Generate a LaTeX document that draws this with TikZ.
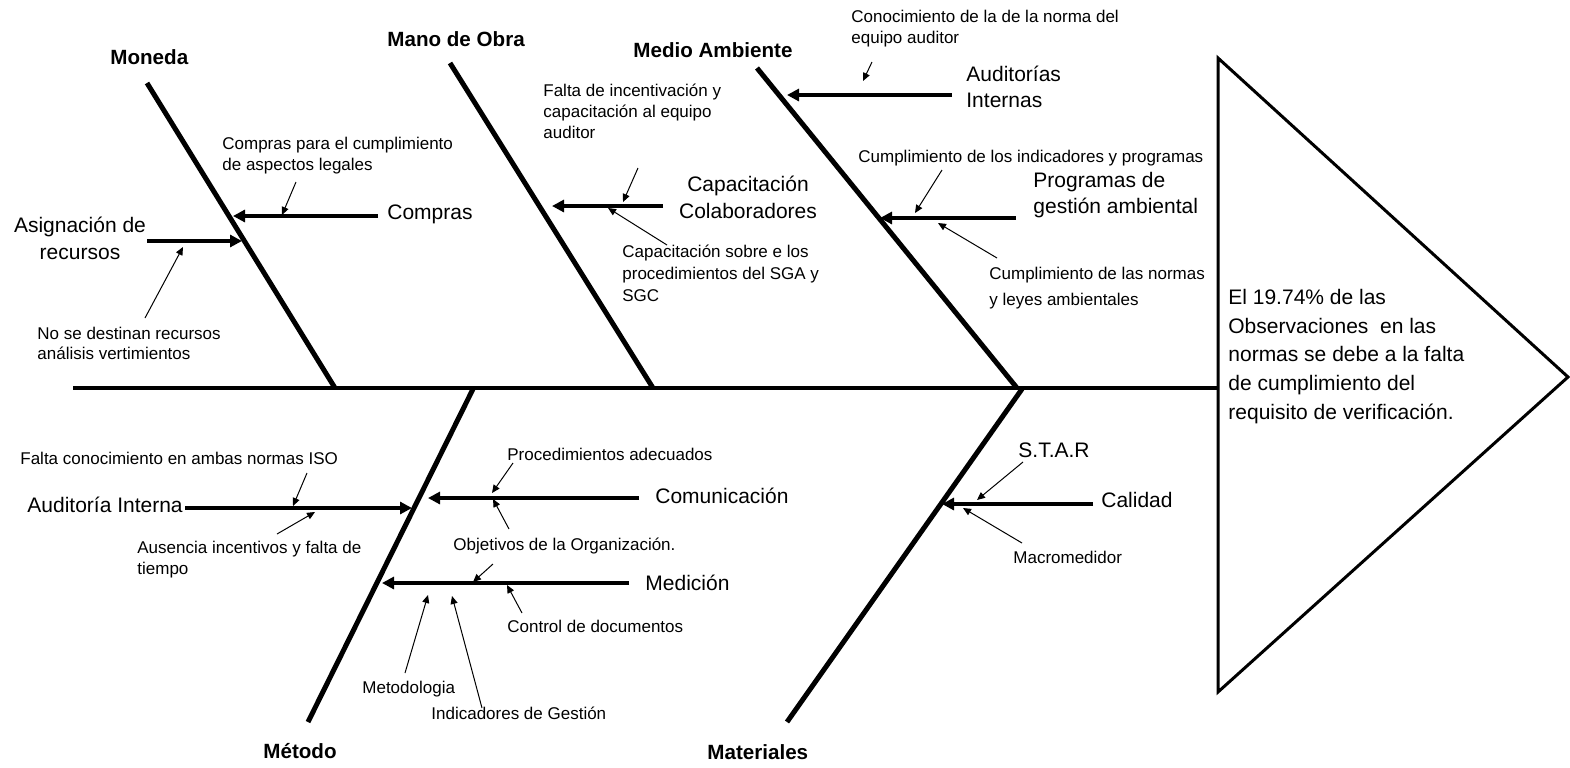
\documentclass[tikz,border=0pt]{standalone}
\usepackage{fontspec}
\setmainfont{Liberation Sans}
\usetikzlibrary{arrows.meta}
\newcommand\fsmall{\fontsize{8.5}{10.5}\selectfont}
\newcommand\fmain{\fontsize{10.5}{13.5}\selectfont}
\newcommand\fcat{\fontsize{10.3}{12}\selectfont\bfseries}
\begin{document}
\begin{tikzpicture}[x=0.5pt,y=-0.5pt,
  bone/.style={line width=2.5pt},
  spine/.style={line width=2pt},
  cause/.style={line width=2pt,-{Triangle[length=6pt,width=6pt]}},
  sub/.style={line width=0.5pt,-{Triangle[length=4pt,width=3.5pt]}},
  lbl/.style={inner sep=0pt,anchor=base west,align=left},
  small/.style={lbl,font=\fsmall},
  main/.style={lbl,font=\fmain},
  cat/.style={lbl,font=\fcat}]
\useasboundingbox (0,0) rectangle (1570,767);
% multi-line labels are placed by the baseline of their last line

% head of the fish
\coordinate (hT) at (1218,58);
\coordinate (hB) at (1218,692);
\coordinate (hA) at (1568,377);
\draw[line width=1.5pt,line join=miter] (hT) -- (hA) -- (hB) -- cycle;
\node[lbl,font=\fontsize{10.5}{14.3}\selectfont] (effect) at (1228,419)
  {El 19.74\% de las\\Observaciones\ \ en las\\normas se debe a la falta\\de cumplimiento del\\requisito de verificación.};

% spine and bones
\coordinate (s0) at (73,388);
\coordinate (s1) at (1218,388);
\draw[spine] (s0) -- (s1);
\coordinate (b1t) at (147,83);  \coordinate (b1b) at (335,388);
\coordinate (b2t) at (450,63);  \coordinate (b2b) at (653,388);
\coordinate (b3t) at (757,68);  \coordinate (b3b) at (1017,388);
\coordinate (b4t) at (473,389); \coordinate (b4b) at (308,722);
\coordinate (b5t) at (1022,389);\coordinate (b5b) at (787,722);
\draw[bone] (b1t) -- (b1b);
\draw[bone] (b2t) -- (b2b);
\draw[bone] (b3t) -- (b3b);
\draw[bone] (b4t) -- (b4b);
\draw[bone] (b5t) -- (b5b);

% category names
\node[cat] (moneda) at (110,64) {Moneda};
\node[cat] (mano) at (387,46) {Mano de Obra};
\node[cat] (medio) at (633,57) {Medio Ambiente};
\node[cat] (metodo) at (263,758) {Método};
\node[cat] (materiales) at (707,759) {Materiales};

% ---- Moneda
\node[main] (compras) at (387,219) {Compras};
\coordinate (a1s) at (378,216); \coordinate (a1e) at (233,216);
\draw[cause] (a1s) -- (a1e);
\node[main,anchor=base,align=center] (asig) at (80,259) {Asignación de\\recursos};
\coordinate (a2s) at (147,241); \coordinate (a2e) at (242,241);
\draw[cause] (a2s) -- (a2e);
\node[small] (n1) at (222,170) {Compras para el cumplimiento\\de aspectos legales};
\coordinate (n1s) at (296,182); \coordinate (n1e) at (282,215);
\draw[sub] (n1s) -- (n1e);
\node[small,font=\fontsize{8.5}{10}\selectfont] (n2) at (37,359) {No se destinan recursos\\análisis vertimientos};
\coordinate (n2s) at (145,318); \coordinate (n2e) at (183,247);
\draw[sub] (n2s) -- (n2e);

% ---- Mano de Obra
\node[main,anchor=base,align=center] (capac) at (748,218) {Capacitación\\Colaboradores};
\coordinate (a3s) at (663,206); \coordinate (a3e) at (552,206);
\draw[cause] (a3s) -- (a3e);
\node[small] (n3) at (543,138) {Falta de incentivación y\\capacitación al equipo\\auditor};
\coordinate (n3s) at (638,168); \coordinate (n3e) at (623,202);
\draw[sub] (n3s) -- (n3e);
\node[small,font=\fontsize{8.5}{10.8}\selectfont] (n4) at (622,301) {Capacitación sobre e los\\procedimientos del SGA y\\SGC};
\coordinate (n4s) at (667,245); \coordinate (n4e) at (608,208);
\draw[sub] (n4s) -- (n4e);

% ---- Medio Ambiente
\node[main,font=\fontsize{10.5}{13}\selectfont] (audit) at (966,107) {Auditorías\\Internas};
\coordinate (a4s) at (952,95); \coordinate (a4e) at (787,95);
\draw[cause] (a4s) -- (a4e);
\node[main,font=\fontsize{10.5}{13}\selectfont] (prog) at (1033,213) {Programas de\\gestión ambiental};
\coordinate (a5s) at (1016,218); \coordinate (a5e) at (880,218);
\draw[cause] (a5s) -- (a5e);
\node[small] (n5) at (851,43) {Conocimiento de la de la norma del\\equipo auditor};
\coordinate (n5s) at (872,62); \coordinate (n5e) at (863,81);
\draw[sub] (n5s) -- (n5e);
\node[small] (n6) at (858,162) {Cumplimiento de los indicadores y programas};
\coordinate (n6s) at (942,170); \coordinate (n6e) at (915,213);
\draw[sub] (n6s) -- (n6e);
\node[small,font=\fontsize{8.5}{13}\selectfont] (n7) at (989,305) {Cumplimiento de las normas\\y leyes ambientales};
\coordinate (n7s) at (997,258); \coordinate (n7e) at (938,223);
\draw[sub] (n7s) -- (n7e);

% ---- Método
\node[main] (audint) at (27,512) {Auditoría Interna};
\coordinate (a6s) at (185,508); \coordinate (a6e) at (412,508);
\draw[cause] (a6s) -- (a6e);
\node[main] (comun) at (655,503) {Comunicación};
\coordinate (a7s) at (639,498); \coordinate (a7e) at (428,498);
\draw[cause] (a7s) -- (a7e);
\node[main] (medic) at (645,590) {Medición};
\coordinate (a8s) at (629,583); \coordinate (a8e) at (382,583);
\draw[cause] (a8s) -- (a8e);
\node[small] (n8) at (20,464) {Falta conocimiento en ambas normas ISO};
\coordinate (n8s) at (307,473); \coordinate (n8e) at (293,506);
\draw[sub] (n8s) -- (n8e);
\node[small] (n9) at (137,574) {Ausencia incentivos y falta de\\tiempo};
\coordinate (n9s) at (277,534); \coordinate (n9e) at (315,512);
\draw[sub] (n9s) -- (n9e);
\node[small] (n10) at (507,460) {Procedimientos adecuados};
\coordinate (n10s) at (513,463); \coordinate (n10e) at (492,493);
\draw[sub] (n10s) -- (n10e);
\node[small] (n11) at (453,550) {Objetivos de la Organización.};
\coordinate (n11s) at (509,529); \coordinate (n11e) at (493,499);
\draw[sub] (n11s) -- (n11e);
\coordinate (n11t) at (493,564); \coordinate (n11f) at (473,582);
\draw[sub] (n11t) -- (n11f);
\node[small] (n12) at (507,632) {Control de documentos};
\coordinate (n12s) at (522,613); \coordinate (n12e) at (507,585);
\draw[sub] (n12s) -- (n12e);
\node[small] (n13) at (362,693) {Metodologia};
\coordinate (n13s) at (405,673); \coordinate (n13e) at (428,595);
\draw[sub] (n13s) -- (n13e);
\node[small] (n14) at (431,719) {Indicadores de Gestión};
\coordinate (n14s) at (482,708); \coordinate (n14e) at (452,596);
\draw[sub] (n14s) -- (n14e);

% ---- Materiales
\node[main] (calidad) at (1101,507) {Calidad};
\coordinate (a9s) at (1093,504); \coordinate (a9e) at (942,504);
\draw[cause] (a9s) -- (a9e);
\node[main] (star) at (1018,457) {S.T.A.R};
\coordinate (n15s) at (1023,462); \coordinate (n15e) at (977,500);
\draw[sub] (n15s) -- (n15e);
\node[small] (macro) at (1013,563) {Macromedidor};
\coordinate (n16s) at (1022,543); \coordinate (n16e) at (963,508);
\draw[sub] (n16s) -- (n16e);
\end{tikzpicture}
\end{document}
